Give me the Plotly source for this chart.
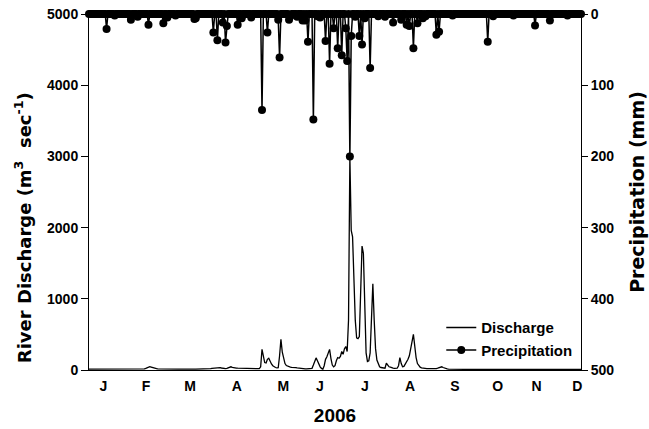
import plotly.graph_objects as go

# ---- data ----
day = list(range(1, 366))

discharge = [
    12, 12, 11, 11, 12, 13, 12, 12, 11, 11,
    11, 12, 12, 13, 14, 15, 14, 13, 12, 12,
    12, 11, 11, 12, 12, 11, 11, 11, 12, 12,
    12, 12, 13, 14, 14, 13, 13, 12, 12, 12,
    13, 15, 22, 32, 42, 48, 42, 34, 27, 22,
    19, 17, 16, 15, 14, 14, 13, 13, 12, 12,
    12, 12, 11, 11, 11, 12, 12, 12, 11, 11,
    11, 11, 11, 12, 12, 12, 11, 11, 11, 11,
    11, 12, 12, 12, 13, 14, 15, 15, 16, 18,
    20, 24, 26, 30, 28, 24, 26, 32, 28, 24,
    22, 20, 24, 30, 38, 45, 36, 30, 28, 26,
    25, 24, 24, 23, 22, 22, 21, 20, 20, 20,
    19, 19, 18, 18, 18, 19, 20, 45, 290, 190,
    105, 100, 150, 165, 120, 85, 60, 45, 35, 30,
    32, 200, 430, 250, 140, 90, 62, 52, 45, 40,
    36, 38, 40, 34, 30, 26, 22, 20, 18, 17,
    16, 15, 15, 15, 16, 24, 70, 140, 170, 130,
    80, 45, 22, 12, 60, 150, 185, 230, 290, 160,
    70, 45, 60, 130, 175, 165, 190, 260, 220, 300,
    330, 260, 700, 3000, 1960, 1870, 1100, 700, 450, 440,
    470, 1200, 1740, 1640, 700, 240, 120, 130, 240, 700,
    1210, 700, 300, 140, 80, 45, 35, 28, 24, 25,
    95, 70, 45, 40, 30, 26, 24, 23, 25, 60,
    175, 90, 45, 50, 80, 115, 150, 200, 280, 400,
    500, 320, 175, 90, 60, 40, 30, 25, 22, 21,
    20, 20, 19, 19, 20, 20, 20, 20, 25, 35,
    45, 45, 35, 25, 20, 15, 13, 12, 12, 11,
    11, 11, 11, 10, 10, 10, 11, 11, 10, 10,
    10, 10, 10, 11, 11, 10, 10, 10, 10, 10,
    10, 10, 10, 10, 10, 11, 11, 10, 10, 12,
    11, 10, 10, 10, 10, 10, 10, 10, 10, 10,
    10, 10, 10, 10, 10, 10, 10, 10, 10, 10,
    10, 10, 10, 10, 10, 10, 10, 10, 10, 11,
    11, 10, 10, 10, 10, 10, 10, 10, 10, 10,
    10, 11, 10, 10, 10, 10, 10, 10, 10, 10,
    10, 10, 10, 10, 10, 10, 10, 10, 10, 10,
    10, 10, 10, 10, 10,
]

precipitation = [
    0, 0, 0, 0, 0, 0, 0, 0, 0, 0,
    0, 0, 0, 21, 0, 0, 0, 0, 0, 2,
    0, 0, 0, 0, 0, 0, 0, 0, 0, 0,
    0, 8, 0, 0, 0, 0, 4, 0, 0, 0,
    0, 0, 0, 0, 15, 0, 0, 0, 0, 0,
    0, 0, 0, 0, 0, 13, 0, 0, 5, 0,
    0, 0, 0, 0, 2, 0, 0, 0, 0, 0,
    0, 0, 0, 0, 0, 0, 0, 0, 7, 6,
    0, 0, 0, 0, 0, 0, 0, 0, 0, 0,
    0, 0, 26, 0, 0, 37, 0, 0, 0, 12,
    0, 40, 17, 0, 0, 0, 0, 0, 0, 0,
    15, 0, 0, 6, 0, 0, 0, 0, 0, 0,
    5, 0, 0, 0, 0, 0, 0, 0, 135, 0,
    0, 0, 26, 0, 0, 0, 0, 0, 0, 0,
    8, 61, 0, 0, 0, 0, 0, 0, 8, 3,
    0, 0, 0, 0, 4, 0, 0, 0, 9, 0,
    9, 0, 39, 0, 0, 0, 148, 0, 0, 3,
    0, 5, 0, 0, 0, 38, 0, 0, 70, 0,
    0, 20, 0, 0, 48, 0, 0, 58, 0, 0,
    20, 66, 0, 200, 31, 0, 0, 4, 0, 0,
    31, 0, 43, 0, 6, 0, 0, 0, 76, 0,
    0, 0, 0, 0, 3, 0, 0, 0, 0, 4,
    0, 0, 0, 0, 0, 12, 0, 0, 0, 0,
    0, 8, 0, 0, 0, 15, 0, 17, 0, 0,
    48, 0, 0, 13, 0, 0, 0, 6, 0, 3,
    0, 0, 0, 0, 0, 0, 0, 29, 0, 25,
    0, 0, 0, 0, 0, 0, 0, 0, 0, 2,
    0, 0, 0, 0, 0, 0, 0, 0, 0, 0,
    0, 0, 0, 0, 0, 0, 0, 0, 0, 0,
    0, 0, 0, 0, 0, 39, 0, 0, 0, 3,
    0, 0, 0, 0, 0, 0, 0, 0, 0, 0,
    0, 0, 0, 0, 2, 0, 0, 0, 0, 0,
    0, 0, 0, 0, 0, 0, 0, 0, 0, 0,
    16, 0, 0, 0, 0, 0, 0, 0, 0, 0,
    0, 9, 0, 0, 0, 0, 0, 0, 0, 0,
    0, 0, 0, 0, 2, 0, 0, 0, 0, 0,
    0, 0, 0, 0, 0,
]

month_labels = ["J", "F", "M", "A", "M", "J", "J", "A", "S", "O", "N", "D"]

# ---- layout config ----
month_tick_pos = [11.6, 43.2, 75.7, 110.3, 144.8, 171.9, 205.2, 238.5, 271.8, 303.4, 332.2, 362.3]

ARIAL = "Arial, 'Liberation Sans', sans-serif"
DEJAVU = "'DejaVu Sans', sans-serif"

fig = go.Figure()

fig.add_trace(go.Scatter(
    x=day, y=discharge, name="Discharge", mode="lines",
    line=dict(color="black", width=1.3), yaxis="y",
))
fig.add_trace(go.Scatter(
    x=day, y=precipitation, name="Precipitation", mode="lines+markers",
    line=dict(color="black", width=1.5),
    marker=dict(color="black", size=8),
    yaxis="y2", cliponaxis=False,
))

fig.update_layout(
    width=649, height=429,
    margin=dict(l=89, r=68, t=14, b=59, autoexpand=False),
    paper_bgcolor="white", plot_bgcolor="white",
    font=dict(family=ARIAL, color="black", size=15, weight="bold"),
    showlegend=True,
    legend=dict(
        x=0.716, y=0.165, xanchor="left", yanchor="top",
        bgcolor="rgba(0,0,0,0)", borderwidth=0,
        font=dict(family=ARIAL, size=15, color="black", weight="bold"),
    ),
    xaxis=dict(
        range=[1, 365], showgrid=False, zeroline=False, automargin=False,
        showline=True, linecolor="black", linewidth=1,
        tickmode="array", tickvals=month_tick_pos, ticktext=month_labels,
        ticks="", ticklabelstandoff=3, tickfont=dict(family=ARIAL, size=14, weight="bold"),
        title=dict(text="2006", font=dict(family=ARIAL, size=19, weight="bold"), standoff=15),
    ),
    yaxis=dict(
        range=[0, 5000], showgrid=False, zeroline=False, automargin=False,
        showline=True, linecolor="black", linewidth=1,
        tickmode="array", tickvals=[0, 1000, 2000, 3000, 4000, 5000],
        ticks="outside", ticklen=7, tickcolor="black",
        tickfont=dict(family=ARIAL, size=14, weight="bold"),
    ),
    yaxis2=dict(
        range=[500, 0], overlaying="y", side="right",
        showgrid=False, zeroline=False, automargin=False,
        showline=True, linecolor="black", linewidth=1,
        tickmode="array", tickvals=[0, 100, 200, 300, 400, 500],
        ticks="outside", ticklen=6, tickcolor="black",
        tickfont=dict(family=ARIAL, size=14, weight="bold"),
    ),
    annotations=[
        dict(
            text="River Discharge (m<sup>3</sup>  sec<sup>-1</sup>)",
            xref="paper", yref="paper", x=-0.135, y=0.40,
            xanchor="center", yanchor="middle", textangle=-90, showarrow=False,
            font=dict(family=DEJAVU, size=18, weight="bold", color="black"),
        ),
        dict(
            text="Precipitation (mm)",
            xref="paper", yref="paper", x=1.1135, y=0.50,
            xanchor="center", yanchor="middle", textangle=-90, showarrow=False,
            font=dict(family=DEJAVU, size=19, weight="bold", color="black"),
        ),
    ],
)

fig.write_html("out.html", post_script="document.body.style.margin='0';",
               config={"displayModeBar": False})
